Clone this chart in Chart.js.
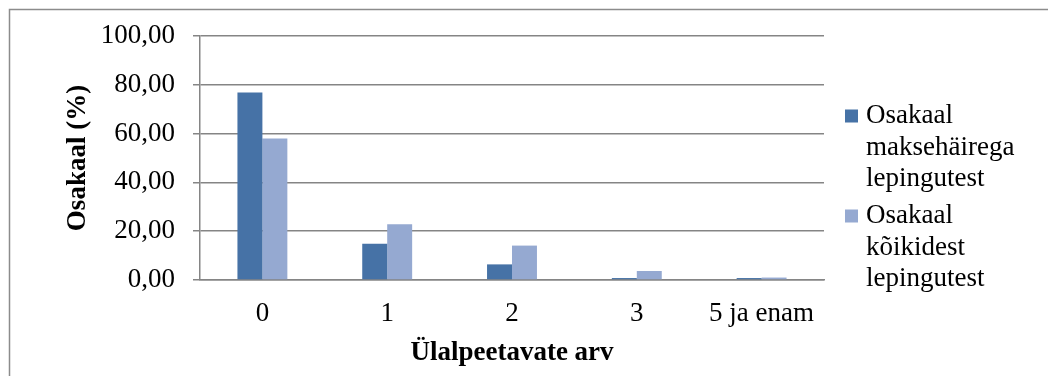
<!DOCTYPE html>
<html lang="et">
<head>
<meta charset="utf-8">
<title>Osakaal ülalpeetavate arvu järgi</title>
<script src="https://cdn.jsdelivr.net/npm/chart.js@4/dist/chart.umd.min.js"></script>
<style>
  html, body { margin: 0; padding: 0; background: #ffffff; }
  #wrap { position: relative; width: 1048px; height: 376px; }
</style>
</head>
<body>
<div id="wrap"><canvas id="chart"></canvas></div>
<script>
// Categories: number of dependants
const categories = ['0', '1', '2', '3', '5 ja enam'];

// Share among contracts with payment defaults (%)
const defaultShare = [76.8, 14.9, 6.4, 0.8, 0.8];
// Share among all contracts (%)
const allShare = [58.0, 22.8, 14.1, 3.7, 1.0];

const seriesLabels = ['Osakaal maksehäirega lepingutest', 'Osakaal kõikidest lepingutest'];
const yTicks = [0, 20, 40, 60, 80, 100];
const xTitle = 'Ülalpeetavate arv';
const yTitle = 'Osakaal (%)';

const FONT = "'Liberation Serif', 'Times New Roman', serif";
const GRID = '#858585';
const DARK = '#4672a6';
const LIGHT = '#95a9d1';

// Outer frame of the chart object (left and top edges)
const framePlugin = {
  id: 'frame',
  beforeDraw(chart) {
    const ctx = chart.ctx;
    ctx.save();
    ctx.strokeStyle = '#8c8c8c';
    ctx.lineWidth = 1.5;
    ctx.beginPath();
    ctx.moveTo(9.5, chart.height);
    ctx.lineTo(9.5, 9.5);
    ctx.lineTo(chart.width, 9.5);
    ctx.stroke();
    ctx.restore();
  }
};

// Legend on the right, one word per line
const sideLegend = {
  id: 'sideLegend',
  afterDraw(chart) {
    const ctx = chart.ctx;
    const boxX = 845, boxSize = 13, textX = 866;
    const lineGap = 31.5, itemGap = 37;
    let y = 116;
    ctx.save();
    ctx.font = '27px ' + FONT;
    ctx.textBaseline = 'middle';
    ctx.textAlign = 'left';
    chart.data.datasets.forEach((ds) => {
      const lines = ds.label.split(' ');
      ctx.fillStyle = ds.backgroundColor;
      ctx.fillRect(boxX, y - boxSize / 2, boxSize, boxSize);
      ctx.fillStyle = '#000000';
      lines.forEach((ln, i) => {
        ctx.fillText(ln, textX, y + i * lineGap);
      });
      y += (lines.length - 1) * lineGap + itemGap;
    });
    ctx.restore();
  }
};

new Chart(document.getElementById('chart'), {
  type: 'bar',
  data: {
    labels: categories,
    datasets: [
      { label: seriesLabels[0], data: defaultShare, backgroundColor: DARK, borderWidth: 0 },
      { label: seriesLabels[1], data: allShare, backgroundColor: LIGHT, borderWidth: 0 }
    ]
  },
  options: {
    responsive: true,
    maintainAspectRatio: false,
    animation: false,
    layout: { padding: { left: 0, right: 224, top: 36, bottom: 0 } },
    datasets: { bar: { categoryPercentage: 0.4, barPercentage: 1.0 } },
    plugins: {
      legend: { display: false },
      tooltip: { enabled: false }
    },
    scales: {
      x: {
        grid: { display: false, drawTicks: false },
        border: { display: true, color: GRID, width: 1.5 },
        ticks: { color: '#000000', font: { family: FONT, size: 27 }, padding: 18, maxRotation: 0, autoSkip: false },
        title: { display: true, text: xTitle, color: '#000000', font: { family: FONT, size: 27, weight: 'bold' }, padding: { top: 0, bottom: 7 } },
        afterFit(scale) { scale.height = 96; }
      },
      y: {
        min: 0,
        max: 100,
        afterBuildTicks(scale) { scale.ticks = yTicks.map(v => ({ value: v })); },
        grid: { color: GRID, lineWidth: 1.5, tickLength: 7, drawTicks: true },
        border: { display: true, color: GRID, width: 1.5 },
        ticks: {
          color: '#000000',
          font: { family: FONT, size: 27 },
          padding: 18,
          callback: (v) => Number(v).toFixed(2).replace('.', ',')
        },
        title: { display: true, text: yTitle, color: '#000000', font: { family: FONT, size: 27, weight: 'bold' }, padding: { top: 62, bottom: 0 } },
        afterFit(scale) { scale.width = 200; }
      }
    }
  },
  plugins: [framePlugin, sideLegend]
});
</script>
</body>
</html>
